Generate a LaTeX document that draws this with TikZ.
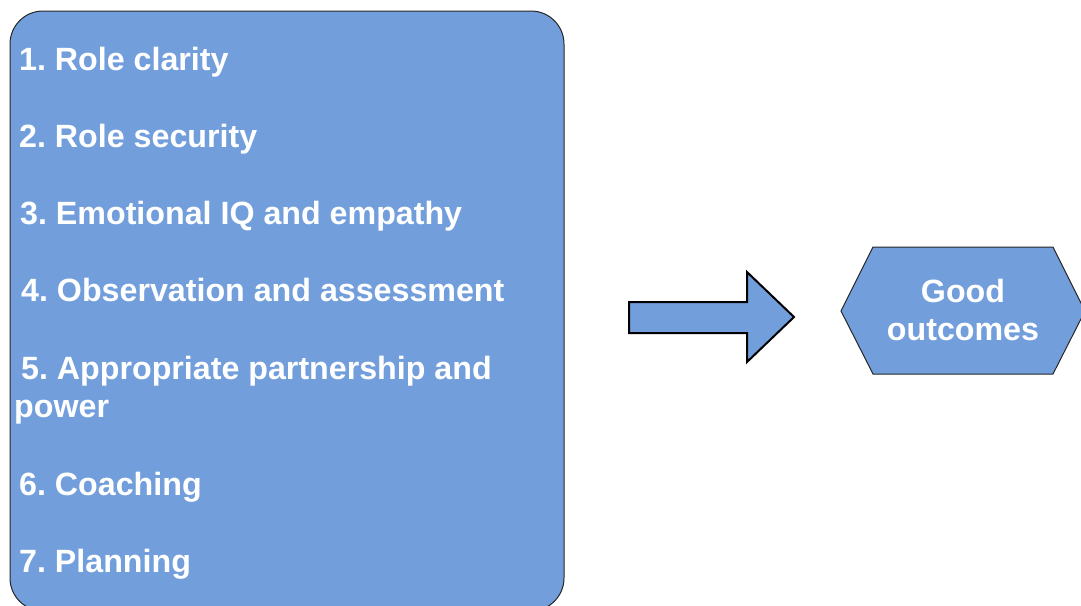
\documentclass[tikz,border=0pt]{standalone}
\usepackage{fontspec}
\setmainfont{Liberation Sans}
\definecolor{boxblue}{RGB}{114,159,220}
\frenchspacing
\begin{document}
\begin{tikzpicture}[x=1pt,y=-1pt,
  txt/.style={inner sep=0pt,text=white,font=\fontsize{32.2}{37}\selectfont\bfseries},
  item/.style={txt,anchor=base west},
  shapeline/.style={draw=black!85,line width=1pt,fill=boxblue}]
\useasboundingbox (0,0) rectangle (1081,605);
\begin{scope}
\clip (0,0) rectangle (1081,605);
% big list box
\draw[shapeline,rounded corners=33pt] (10,11) rectangle (564,611);
% hexagon
\draw[shapeline] (841,311) -- (873,247) -- (1053,247) -- (1085,311) -- (1053,374) -- (873,374) -- cycle;
\end{scope}
% block arrow
\draw[fill=boxblue,draw=black,line width=2pt,line join=miter]
  (629,302) -- (747,302) -- (747,272) -- (794,317) -- (747,362) -- (747,333) -- (629,333) -- cycle;
% list texts
\node[item] (i1) at (19,70) {1. Role clarity};
\node[item] (i2) at (19,147) {2. Role security};
\node[item] (i3) at (20,224) {3. Emotional IQ and empathy};
\node[item] (i4) at (21,301) {4. Observation and assessment};
\node[item] (i5) at (21,379) {5. Appropriate partnership and};
\node[item] (i5b) at (14,417) {power};
\node[item] (i6) at (19,495) {6. Coaching};
\node[item] (i7) at (19,572) {7. Planning};
% hexagon text
\node[txt,anchor=base] (g1) at (963,302) {Good};
\node[txt,anchor=base] (g2) at (963,340) {outcomes};
\end{tikzpicture}
\end{document}
